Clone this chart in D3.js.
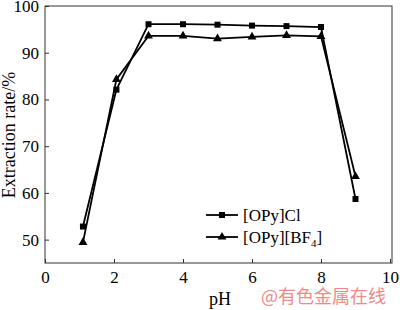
<!DOCTYPE html>
<meta charset="utf-8">
<style>
body { margin: 0; background: #fff; }
text { font-family: "Liberation Serif", "DejaVu Serif", serif; fill: #000; }
.tick text { font-size: 17px; }
.label { font-size: 18px; }
.legendLabel { font-size: 17px; }
.watermark { font-family: "Noto Sans CJK SC", sans-serif; font-size: 18px; fill: #f08a8a; }
</style>
<body>
<script src="https://d3js.org/d3.v7.min.js"></script>
<script>

const phValues = [1.1, 2.07, 3, 4, 5, 6, 7, 8, 9];
const clRates  = [52.8, 82.1, 96.1, 96.1, 96.0, 95.8, 95.7, 95.5, 58.7];
const bf4Rates = [49.4, 84.3, 93.6, 93.6, 93.0, 93.4, 93.7, 93.5, 63.5];
const xTicks = [0, 2, 4, 6, 8, 10];
const yTicks = [50, 60, 70, 80, 90, 100];

const width = 400,
      height = 310,
      margin = {left: 45, right: 8, top: 6, bottom: 47};

let svg = d3.select("body").append("svg")
            .attr("width", width)
            .attr("height", height);

let x = d3.scaleLinear().domain([0, 10]).range([margin.left, 390]),
    y = d3.scaleLinear().domain([45, 100]).range([height - margin.bottom, margin.top]);

// frame
svg.append("rect")
    .attr("x", margin.left)
    .attr("y", margin.top)
    .attr("width", width - margin.right - margin.left)
    .attr("height", height - margin.bottom - margin.top)
    .attr("fill", "none")
    .attr("stroke", "#333")
    .attr("stroke-width", 1);

let xAxis = svg.append("g")
    .attr("transform", `translate(0,${height - margin.bottom})`)
    .call(d3.axisBottom(x).tickValues(xTicks).tickSizeInner(-4).tickSizeOuter(0).tickPadding(8));
xAxis.select(".domain").remove();

let yAxis = svg.append("g")
    .attr("transform", `translate(${margin.left},0)`)
    .call(d3.axisLeft(y).tickValues(yTicks).tickSizeInner(-4).tickSizeOuter(0).tickPadding(6));
yAxis.select(".domain").remove();

svg.selectAll(".tick line").attr("stroke", "#333");

svg.append("text")
    .attr("class", "label")
    .attr("text-anchor", "middle")
    .attr("transform", `translate(15,135) rotate(-90)`)
    .text("Extraction rate/%");

svg.append("text")
    .attr("class", "label")
    .attr("x", 220)
    .attr("y", 305)
    .attr("text-anchor", "middle")
    .text("pH");

svg.append("text")
    .attr("class", "watermark")
    .attr("x", 261)
    .attr("y", 303)
    .text("@有色金属在线");

const line = d3.line()
    .x(d => x(d[0]))
    .y(d => y(d[1]));

const series = [
    {name: "cl", values: clRates, symbol: d3.symbolSquare, size: 36},
    {name: "bf4", values: bf4Rates, symbol: d3.symbolTriangle, size: 34}
];

series.forEach(s => {
    let pts = phValues.map((p, i) => [p, s.values[i]]);
    svg.append("path")
        .datum(pts)
        .attr("fill", "none")
        .attr("stroke", "#000")
        .attr("stroke-width", 1.8)
        .attr("d", line);
    svg.append("g")
        .selectAll("path")
        .data(pts)
        .join("path")
            .attr("transform", d => `translate(${x(d[0])},${y(d[1])})`)
            .attr("d", d3.symbol().type(s.symbol).size(s.size))
            .attr("fill", "#000");
});

// legend
const legend = svg.append("g").attr("transform", "translate(206,215)");
const legendItems = [
    {label: "[OPy]Cl", symbol: d3.symbolSquare, size: 36},
    {label: "[OPy][BF", sub: "4", tail: "]", symbol: d3.symbolTriangle, size: 34}
];
const lg = legend.selectAll("g")
    .data(legendItems)
    .join("g")
        .attr("transform", (d, i) => `translate(0,${i * 22})`);

lg.append("line")
    .attr("x1", 0).attr("x2", 32)
    .attr("stroke", "#000").attr("stroke-width", 1.8);
lg.append("path")
    .attr("transform", "translate(16,0)")
    .attr("d", d => d3.symbol().type(d.symbol).size(d.size)())
    .attr("fill", "#000");

const lt = lg.append("text")
    .attr("class", "legendLabel")
    .attr("x", 37)
    .attr("y", 0)
    .attr("dy", "0.33em");
lt.append("tspan").text(d => d.label);
lt.filter(d => d.sub).append("tspan")
    .attr("font-size", "11px")
    .attr("dy", "4")
    .text(d => d.sub);
lt.filter(d => d.sub).append("tspan")
    .attr("dy", "-4")
    .text(d => d.tail);

</script>
